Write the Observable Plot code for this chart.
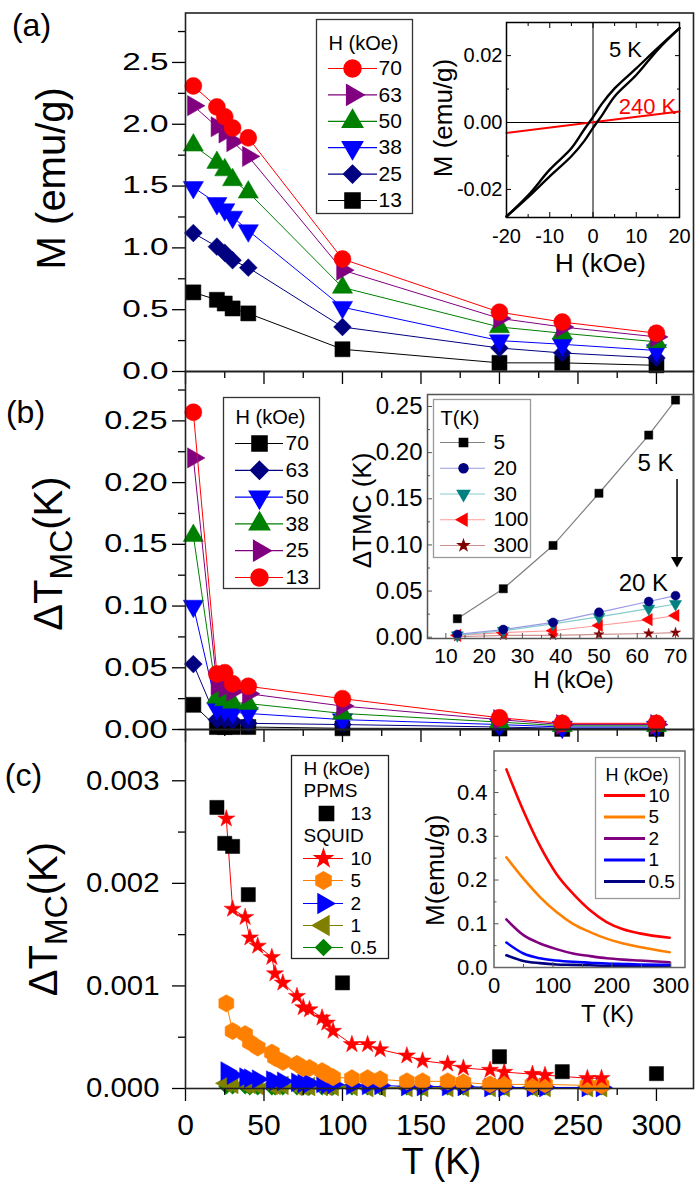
<!DOCTYPE html>
<html>
<head>
<meta charset="utf-8">
<script src="https://cdn.jsdelivr.net/npm/d3@7"></script>
<script src="https://cdn.jsdelivr.net/npm/@observablehq/plot@0.6"></script>
<style>
html,body{margin:0;padding:0;background:#fff;}
#chart{position:relative;width:700px;height:1185px;overflow:hidden;background:#fff;}
</style>
</head>
<body>
<div id="chart"></div>
<script>
// ===================== DATA =====================
// Panel (a): M (emu/g) vs T (K) at several fields (kOe)
const T_main = [5, 20, 25, 30, 40, 100, 200, 240, 300];
const M_70 = [2.31, 2.14, 2.06, 1.97, 1.89, 0.91, 0.48, 0.40, 0.31];
const M_63 = [2.15, 1.98, 1.93, 1.86, 1.74, 0.82, 0.43, 0.36, 0.28];
const M_50 = [1.83, 1.69, 1.63, 1.55, 1.45, 0.68, 0.36, 0.31, 0.24];
const M_38 = [1.49, 1.36, 1.31, 1.25, 1.14, 0.52, 0.25, 0.22, 0.17];
const M_25 = [1.12, 1.01, 0.96, 0.90, 0.84, 0.36, 0.19, 0.15, 0.11];
const M_13 = [0.64, 0.58, 0.55, 0.51, 0.47, 0.18, 0.07, 0.07, 0.05];

// Panel (b): ΔT_MC (K) vs T (K)
const D_70 = [0.020, 0.002, 0.002, 0.002, 0.002, 0.001, 0.0008, 0.0005, 0.0005];
const D_63 = [0.053, 0.008, 0.008, 0.007, 0.005, 0.004, 0.002, 0.001, 0.001];
const D_50 = [0.100, 0.017, 0.016, 0.014, 0.013, 0.008, 0.004, 0.002, 0.002];
const D_38 = [0.157, 0.026, 0.024, 0.022, 0.021, 0.013, 0.006, 0.003, 0.003];
const D_25 = [0.220, 0.036, 0.034, 0.031, 0.029, 0.019, 0.008, 0.004, 0.004];
const D_13 = [0.257, 0.045, 0.046, 0.037, 0.035, 0.025, 0.0095, 0.005, 0.005];

// Panel (c): ΔT_MC (K) vs T (K), PPMS and SQUID
const T_ppms = [20, 25, 30, 40, 100, 200, 240, 300];
const C_ppms13 = [0.00274, 0.00239, 0.00236, 0.00189, 0.00103, 0.00031, 0.000164, 0.000145];
const T_squid = [26, 30, 38, 41, 46, 55, 57, 62, 71, 75, 79, 87, 90, 94, 106, 116, 124, 141, 151, 167, 177, 194, 203, 221, 229, 256, 265];
const C_sq10 = [0.00263, 0.00175, 0.00167, 0.00147, 0.00139, 0.00128, 0.00112, 0.00103, 0.00090, 0.00079, 0.00077, 0.00069, 0.00064, 0.00056, 0.00043, 0.00043, 0.00038, 0.00032, 0.00027, 0.00024, 0.00020, 0.00018, 0.00016, 0.00014, 0.00013, 0.00010, 0.00010];
const C_sq5 = [0.00083, 0.00056, 0.00053, 0.00045, 0.00040, 0.00035, 0.00030, 0.00026, 0.00024, 0.00020, 0.00020, 0.00017, 0.00014, 0.00011, 0.00010, 0.00010, 0.00009, 0.00007, 0.00007, 0.00007, 0.00006, 0.00004, 0.00004, 0.00004, 0.00004, 0.00003, 0.00003];
const C_sq2 = [0.00017, 0.00013, 0.00011, 0.00010, 0.00009, 0.00008, 0.00007, 0.00007, 0.00006, 0.00005, 0.00005, 0.00005, 0.00004, 0.00004, 0.00003, 0.00003, 0.00003, 0.00002, 0.00002, 0.00002, 0.00002, 0.00001, 0.00001, 0.00001, 0.00001, 0.00001, 0.00001];
const C_sq1 = [0.00005, 0.00004, 0.00004, 0.00004, 0.00003, 0.00003, 0.00003, 0.00003, 0.00002, 0.00002, 0.00002, 0.00002, 0.00002, 0.00002, 0.00002, 0.00001, 0.00001, 0.00001, 0.00001, 0.00001, 0.00001, 0.00001, 0.00001, 0.00001, 0.00001, 0.00001, 0.00001];
const C_sq05 = [0.00002, 0.00002, 0.00002, 0.00001, 0.00001, 0.00001, 0.00001, 0.00001, 0.00001, 0.00001, 0.00001, 0.00001, 0.00001, 0.00001, 0.00001, 0.00001, 0.00001, 0.00001, 0.00001, 0.00001, 0.00001, 0.00001, 0.00001, 0.00001, 0.00001, 0.00001, 0.00001];

// Inset (a): M (emu/g) vs H (kOe) loops
const H_desc = [20, 15, 10, 5, 2, 0, -2, -5, -10, -15, -20];
const M5K_desc = [0.0282, 0.0223, 0.0162, 0.0102, 0.0055, 0.0016, -0.0020, -0.0077, -0.0141, -0.0218, -0.0281];
const H_asc = [-20, -15, -10, -5, -2, 0, 2, 5, 10, 15, 20];
const M5K_asc = [-0.0281, -0.0223, -0.0161, -0.0101, -0.0055, -0.0016, 0.0020, 0.0078, 0.0142, 0.0218, 0.0282];
const H_240 = [-20, 20];
const M240K = [-0.0031, 0.0033];

// Inset (b): ΔT_MC (K) vs H (kOe)
const H_inset = [13, 25, 38, 50, 63, 70];
const dT_5K = [0.020, 0.0525, 0.0994, 0.156, 0.219, 0.257];
const dT_20K = [0.003, 0.0083, 0.016, 0.027, 0.0387, 0.045];
const dT_30K = [0.002, 0.007, 0.0145, 0.022, 0.031, 0.036];
const dT_100K = [0.002, 0.005, 0.007, 0.0127, 0.019, 0.0235];
const dT_300K = [0.0005, 0.002, 0.002, 0.003, 0.004, 0.005];

// Inset (c): M (emu/g) vs T (K)
const T_mt = [21, 50, 78, 106, 134, 163, 191, 219, 247, 298];
const MT_10 = [0.453, 0.358, 0.278, 0.214, 0.169, 0.131, 0.104, 0.0875, 0.078, 0.068];
const MT_5 = [0.252, 0.203, 0.161, 0.127, 0.100, 0.081, 0.066, 0.055, 0.047, 0.035];
const MT_2 = [0.110, 0.074, 0.055, 0.042, 0.032, 0.026, 0.021, 0.018, 0.016, 0.012];
const MT_1 = [0.057, 0.032, 0.021, 0.016, 0.013, 0.011, 0.009, 0.008, 0.007, 0.006];
const MT_05 = [0.028, 0.015, 0.010, 0.007, 0.006, 0.005, 0.004, 0.004, 0.003, 0.003];

// Tick values
const T_major = [0, 50, 100, 150, 200, 250, 300];
const T_minor = [25, 75, 125, 175, 225, 275];
const yA_major = [0, 0.5, 1.0, 1.5, 2.0, 2.5];
const yA_minor = [0.25, 0.75, 1.25, 1.75, 2.25, 2.75];
const yB_major = [0, 0.05, 0.10, 0.15, 0.20, 0.25];
const yB_minor = [0.025, 0.075, 0.125, 0.175, 0.225, 0.275];
const yC_major = [0, 0.001, 0.002, 0.003];
const yC_minor = [0.0005, 0.0015, 0.0025, 0.0035];

// ===================== HELPERS =====================
const FONT = '"Liberation Sans", Arial, Helvetica, sans-serif';
const W = 700, H = 1185;
const root = document.getElementById("chart");
function box(l, t, r, b) {
  return {width: W, height: H, marginLeft: l, marginTop: t, marginRight: W - r, marginBottom: H - b};
}
function draw(opts) {
  const svg = Plot.plot({
    ...opts,
    style: {background: "transparent", overflow: "visible", fontFamily: FONT, fontSize: "20px", color: "#000",
      position: "absolute", left: "0px", top: "0px", maxWidth: "none"}
  });
  root.append(svg);
  return svg;
}
function triangle(deg) {
  const a = deg * Math.PI / 180, c = Math.cos(a), s = Math.sin(a);
  return {draw(ctx, size) {
    const y = -Math.sqrt(size / (Math.sqrt(3) * 3));
    const pts = [[0, 2 * y], [-Math.sqrt(3) * y, -y], [Math.sqrt(3) * y, -y]];
    pts.forEach(([px, py], i) => {
      const X = px * c - py * s, Y = px * s + py * c;
      if (i) ctx.lineTo(X, Y); else ctx.moveTo(X, Y);
    });
    ctx.closePath();
  }};
}
const TRI_UP = triangle(0), TRI_RIGHT = triangle(90), TRI_DOWN = triangle(180), TRI_LEFT = triangle(270);
const rows = (xs, ys) => xs.map((x, i) => ({x, y: ys[i]}));
function seriesMarks(list, lw) {
  return list.flatMap(s => {
    const d = rows(s.x, s.v);
    const m = [];
    if (s.line !== false) m.push(Plot.line(d, {x: "x", y: "y", stroke: s.lc || s.c, strokeWidth: lw, curve: s.curve || "linear"}));
    if (s.s) m.push(Plot.dot(d, {x: "x", y: "y", symbol: s.s, r: s.r, fill: s.c, stroke: s.c, strokeWidth: 0.5}));
    return m;
  });
}
// centred free label placed relative to the frame
function label(text, frameAnchor, dx, dy, fontSize, extra = {}) {
  return Plot.text([text], {text: d => d, frameAnchor, dx, dy, fontSize, textAnchor: "middle", lineAnchor: "middle", ...extra});
}
function stretchLabels(svg, sx) {
  svg.querySelectorAll('g[aria-label="y-axis tick label"] text').forEach(el => {
    const tr = el.getAttribute("transform");
    if (tr) el.setAttribute("transform", tr + ` scale(${sx},1)`);
  });
}
function subscriptTitles(svg) {
  const ns = "http://www.w3.org/2000/svg";
  svg.querySelectorAll("text").forEach(el => {
    if (el.textContent === "ΔTMC(K)") {
      el.textContent = "";
      const a = document.createElementNS(ns, "tspan"); a.textContent = "ΔT";
      const b = document.createElementNS(ns, "tspan"); b.textContent = "MC";
      b.setAttribute("font-size", "0.8em"); b.setAttribute("dy", "0.3em");
      const c = document.createElementNS(ns, "tspan"); c.textContent = "(K)"; c.setAttribute("dy", "-0.24em");
      el.append(a, b, c);
    }
  });
}
function mainPanel({t, b, ydom, yMajor, yMinor, fmt, yFont, yPad, sx, bottomLabels, marks}) {
  const svg = draw({
    ...box(185, t, 693, b),
    x: {domain: [0, 323.6]}, y: {domain: ydom},
    marks: [
      ...marks,
      Plot.axisY({ticks: yMinor, tickSize: 7, tickFormat: () => "", label: null, strokeWidth: 1.3}),
      Plot.axisY({ticks: yMajor, tickSize: 13, tickPadding: yPad, tickFormat: fmt, fontSize: yFont, label: null, strokeWidth: 1.3}),
      Plot.axisX({ticks: T_minor, tickSize: 7, tickFormat: () => "", label: null, strokeWidth: 1.3}),
      Plot.axisX({ticks: T_major, tickSize: 13, tickPadding: 12, fontSize: 30, strokeWidth: 1.3,
        tickFormat: bottomLabels ? (d => String(d)) : () => "", label: null}),
      Plot.frame({stroke: "#222", strokeWidth: 1.6})
    ]
  });
  stretchLabels(svg, sx);
  subscriptTitles(svg);
  return svg;
}
function legend({l, t, r, b, stroke = "#333", titles, entries, font = 20, titleFont = 20}) {
  const marks = [Plot.frame({fill: "white", stroke, strokeWidth: 1.3})];
  marks.push(Plot.text(titles, {x: "x", y: "y", text: "text", textAnchor: "start", lineAnchor: "middle", fontSize: titleFont}));
  for (const e of entries) {
    if (e.x1 != null) marks.push(Plot.ruleY([e], {y: "y", x1: "x1", x2: "x2", stroke: e.lc || e.c, strokeWidth: e.lw || 1.2}));
    if (e.s) marks.push(Plot.dot([e], {x: "mx", y: "y", symbol: e.s, r: e.r, fill: e.c, stroke: e.c}));
  }
  marks.push(Plot.text(entries, {x: "tx", y: "y", text: "label", textAnchor: "start", lineAnchor: "middle", fontSize: font}));
  return draw({...box(l, t, r, b),
    x: {domain: [0, r - l], axis: null},
    y: {domain: [0, b - t], reverse: true, axis: null}, marks});
}

// ===================== SERIES STYLES =====================
const seriesA = [
  {k: "13", x: T_main, v: M_13, c: "#000000", s: "square", r: 8.5},
  {k: "25", x: T_main, v: M_25, c: "#000080", s: "diamond2", r: 8},
  {k: "38", x: T_main, v: M_38, c: "#0000ff", s: TRI_DOWN, r: 7.5},
  {k: "50", x: T_main, v: M_50, c: "#008000", s: TRI_UP, r: 7.5},
  {k: "63", x: T_main, v: M_63, c: "#800080", s: TRI_RIGHT, r: 7.5},
  {k: "70", x: T_main, v: M_70, c: "#ff0000", s: "circle", r: 8.5}
];
const seriesB = [
  {k: "70", x: T_main, v: D_70, c: "#000000", s: "square", r: 8.5},
  {k: "63", x: T_main, v: D_63, c: "#000080", s: "diamond2", r: 8},
  {k: "50", x: T_main, v: D_50, c: "#0000ff", s: TRI_DOWN, r: 7.5},
  {k: "38", x: T_main, v: D_38, c: "#008000", s: TRI_UP, r: 7.5},
  {k: "25", x: T_main, v: D_25, c: "#800080", s: TRI_RIGHT, r: 7.5},
  {k: "13", x: T_main, v: D_13, c: "#ff0000", s: "circle", r: 8.5}
];
const seriesC = [
  {k: "0.5", x: T_squid, v: C_sq05, c: "#008000", s: "diamond2", r: 7},
  {k: "1", x: T_squid, v: C_sq1, c: "#808000", s: TRI_LEFT, r: 7},
  {k: "2", x: T_squid, v: C_sq2, c: "#0000ff", s: TRI_RIGHT, r: 7},
  {k: "5", x: T_squid, v: C_sq5, c: "#ff8000", s: "hexagon", r: 7.5},
  {k: "10", x: T_squid, v: C_sq10, c: "#ff0000", s: "star", r: 5.4},
  {k: "13", x: T_ppms, v: C_ppms13, c: "#000000", s: "square", r: 8, line: false}
];
const seriesIB = [
  {k: "300", x: H_inset, v: dT_300K, c: "#800000", lc: "#d09090", s: "star", r: 3.2},
  {k: "100", x: H_inset, v: dT_100K, c: "#ff0000", lc: "#ff9a9a", s: TRI_LEFT, r: 4.5},
  {k: "30", x: H_inset, v: dT_30K, c: "#008080", lc: "#86cccc", s: TRI_DOWN, r: 4.5},
  {k: "20", x: H_inset, v: dT_20K, c: "#000080", lc: "#9a9ae6", s: "circle", r: 4.5},
  {k: "5", x: H_inset, v: dT_5K, c: "#000000", lc: "#808080", s: "square", r: 4.6}
];
const seriesIC = [
  {k: "0.5", x: T_mt, v: MT_05, c: "#000080", curve: "monotone-x"},
  {k: "1", x: T_mt, v: MT_1, c: "#0000ff", curve: "monotone-x"},
  {k: "2", x: T_mt, v: MT_2, c: "#800080", curve: "monotone-x"},
  {k: "5", x: T_mt, v: MT_5, c: "#ff8000", curve: "monotone-x"},
  {k: "10", x: T_mt, v: MT_10, c: "#ff0000", curve: "monotone-x"}
];

// ===================== MAIN PANELS =====================
mainPanel({
  t: 12.5, b: 371, ydom: [0, 2.9], yMajor: yA_major, yMinor: yA_minor, fmt: d => d.toFixed(1),
  yFont: 23, yPad: 4, sx: 1.45, bottomLabels: false,
  marks: [
    ...seriesMarks(seriesA, 1),
    label("M (emu/g)", "left", -133, -14, 40, {rotate: -90}),
    label("(a)", "top-left", -154, 12.5, 32)
  ]
});
mainPanel({
  t: 371, b: 729, ydom: [0, 0.29], yMajor: yB_major, yMinor: yB_minor, fmt: d => d.toFixed(2),
  yFont: 25, yPad: 5, sx: 1.3, bottomLabels: false,
  marks: [
    ...seriesMarks(seriesB, 1),
    label("ΔTMC(K)", "left", -136, 3, 40, {rotate: -90}),
    label("(b)", "top-left", -160, 41, 32)
  ]
});
mainPanel({
  t: 729, b: 1088, ydom: [0, 0.0035], yMajor: yC_major, yMinor: yC_minor, fmt: d => d.toFixed(3),
  yFont: 28, yPad: 13, sx: 1.05, bottomLabels: true,
  marks: [
    ...seriesMarks(seriesC, 1),
    label("ΔTMC(K)", "left", -141, 10, 40, {rotate: -90}),
    label("(c)", "top-left", -162, 46, 32),
    label("T (K)", "bottom", 2, 74, 36)
  ]
});

// ===================== INSET (a) =====================
draw({
  ...box(506, 22, 679, 217),
  x: {domain: [-20, 20]}, y: {domain: [-0.0284, 0.0299]},
  marks: [
    Plot.ruleX([0], {stroke: "#000", strokeWidth: 1}),
    Plot.ruleY([0], {stroke: "#000", strokeWidth: 1}),
    Plot.line(rows(H_240, M240K), {x: "x", y: "y", stroke: "#ff0000", strokeWidth: 2}),
    Plot.line(rows(H_desc, M5K_desc), {x: "x", y: "y", stroke: "#000", strokeWidth: 2.4, curve: "catmull-rom"}),
    Plot.line(rows(H_asc, M5K_asc), {x: "x", y: "y", stroke: "#000", strokeWidth: 2.4, curve: "catmull-rom"}),
    Plot.text([{h: 7.5, m: 0.0217, t: "5 K"}], {x: "h", y: "m", text: "t", fontSize: 22, fill: "#000"}),
    Plot.text([{h: 12.6, m: 0.0047, t: "240 K"}], {x: "h", y: "m", text: "t", fontSize: 22, fill: "#ff0000"}),
    Plot.axisX({ticks: [-20, -10, 0, 10, 20], tickSize: 0, tickPadding: 11, fontSize: 20, tickFormat: d => String(d), label: null}),
    Plot.axisX({ticks: [-10, 0, 10], tickSize: -5, tickFormat: () => "", label: null}),
    Plot.axisX({ticks: [-15, -5, 5, 15], tickSize: -3, tickFormat: () => "", label: null}),
    Plot.axisX({anchor: "top", ticks: [-10, 0, 10], tickSize: -5, tickFormat: () => "", label: null}),
    Plot.axisX({anchor: "top", ticks: [-15, -5, 5, 15], tickSize: -3, tickFormat: () => "", label: null}),
    Plot.axisY({ticks: [-0.02, 0, 0.02], tickSize: 0, tickPadding: 4, fontSize: 20, tickFormat: d => d.toFixed(2), label: null}),
    Plot.axisY({ticks: [-0.02, 0, 0.02], tickSize: -5, tickFormat: () => "", label: null}),
    Plot.axisY({ticks: [-0.01, 0.01], tickSize: -3, tickFormat: () => "", label: null}),
    Plot.axisY({anchor: "right", ticks: [-0.02, 0, 0.02], tickSize: -5, tickFormat: () => "", label: null}),
    Plot.axisY({anchor: "right", ticks: [-0.01, 0.01], tickSize: -3, tickFormat: () => "", label: null}),
    label("M (emu/g)", "left", -63, -2, 26, {rotate: -90}),
    label("H (kOe)", "bottom", 7.5, 46, 26),
    Plot.frame({stroke: "#000", strokeWidth: 1.5})
  ]
});

// ===================== INSET (b) =====================
draw({
  ...box(427, 394, 693, 638),
  x: {domain: [5.2, 74.7]}, y: {domain: [-0.0014, 0.263]},
  marks: [
    label("ΔTMC (K)", "left", -65, -6, 26, {rotate: -90}),
    ...seriesMarks(seriesIB, 1.2),
    Plot.text([{h: 64.8, v: 0.188, t: "5 K"}], {x: "h", y: "v", text: "t", fontSize: 24}),
    Plot.text([{h: 61.6, v: 0.058, t: "20 K"}], {x: "h", y: "v", text: "t", fontSize: 24}),
    Plot.ruleX([{h: 70.4, a: 0.171, b: 0.086}], {x: "h", y1: "a", y2: "b", stroke: "#000", strokeWidth: 1.5}),
    Plot.dot([{h: 70.4, v: 0.083}], {x: "h", y: "v", symbol: TRI_DOWN, r: 4.5, fill: "#000"}),
    Plot.axisX({ticks: [10, 20, 30, 40, 50, 60, 70], tickSize: 0, tickPadding: 10, fontSize: 21, tickFormat: d => String(d), label: null}),
    Plot.axisX({ticks: [10, 20, 30, 40, 50, 60, 70], tickSize: -5, tickFormat: () => "", label: null, stroke: "#555"}),
    Plot.axisX({ticks: [15, 25, 35, 45, 55, 65], tickSize: -3, tickFormat: () => "", label: null, stroke: "#555"}),
    Plot.axisY({ticks: yB_major, tickSize: 0, tickPadding: 5, fontSize: 24, tickFormat: d => d.toFixed(2), label: null}),
    Plot.axisY({ticks: yB_major, tickSize: -5, tickFormat: () => "", label: null, stroke: "#555"}),
    Plot.axisY({ticks: yB_minor.slice(0, 5), tickSize: -3, tickFormat: () => "", label: null, stroke: "#555"}),
    label("H (kOe)", "bottom", 13, 42, 23),
    Plot.frame({stroke: "#555", strokeWidth: 1.5})
  ]
});

// ===================== INSET (c) =====================
draw({
  ...box(493.5, 750.5, 684.5, 967),
  x: {domain: [0, 324]}, y: {domain: [0, 0.495]},
  marks: [
    ...seriesMarks(seriesIC, 2.6),
    Plot.axisX({ticks: [0, 100, 200, 300], tickSize: 0, tickPadding: 10, fontSize: 22, tickFormat: d => String(d), label: null}),
    Plot.axisX({ticks: [100, 200, 300], tickSize: -5, tickFormat: () => "", label: null, stroke: "#555"}),
    Plot.axisX({ticks: [50, 150, 250], tickSize: -3, tickFormat: () => "", label: null, stroke: "#555"}),
    Plot.axisY({ticks: [0, 0.1, 0.2, 0.3, 0.4], tickSize: 0, tickPadding: 6.5, fontSize: 22, tickFormat: d => d.toFixed(1), label: null}),
    Plot.axisY({ticks: [0.1, 0.2, 0.3, 0.4], tickSize: -5, tickFormat: () => "", label: null, stroke: "#555"}),
    Plot.axisY({ticks: [0.05, 0.15, 0.25, 0.35, 0.45], tickSize: -3, tickFormat: () => "", label: null, stroke: "#555"}),
    label("M(emu/g)", "left", -58.5, 11, 26, {rotate: -90}),
    label("T (K)", "bottom", 18, 47, 24),
    Plot.frame({stroke: "#666", strokeWidth: 1.5})
  ]
});

// ===================== LEGENDS =====================
const legA = [
  {label: "70", c: "#ff0000", s: "circle", r: 8.5},
  {label: "63", c: "#800080", s: TRI_RIGHT, r: 7.5},
  {label: "50", c: "#008000", s: TRI_UP, r: 7.5},
  {label: "38", c: "#0000ff", s: TRI_DOWN, r: 7.5},
  {label: "25", c: "#000080", s: "diamond2", r: 8},
  {label: "13", c: "#000000", s: "square", r: 8.5}
].map((e, i) => ({...e, y: 49 + i * 26.4, x1: 12, x2: 61, mx: 36, tx: 62}));
legend({l: 316, t: 19, r: 412, b: 213, titles: [{text: "H (kOe)", x: 12, y: 24}], entries: legA, font: 21, titleFont: 20});

const legB = [
  {label: "70", c: "#000000", s: "square", r: 8.5},
  {label: "63", c: "#000080", s: "diamond2", r: 8},
  {label: "50", c: "#0000ff", s: TRI_DOWN, r: 7.5},
  {label: "38", c: "#008000", s: TRI_UP, r: 7.5},
  {label: "25", c: "#800080", s: TRI_RIGHT, r: 7.5},
  {label: "13", c: "#ff0000", s: "circle", r: 8.5}
].map((e, i) => ({...e, y: 46 + i * 26.8, x1: 12, x2: 60, mx: 36, tx: 62}));
legend({l: 223, t: 397, r: 319, b: 588, titles: [{text: "H (kOe)", x: 12, y: 20}], entries: legB, font: 21, titleFont: 20});

const legIB = [
  {label: "5", c: "#000000", lc: "#808080", s: "square", r: 4.6},
  {label: "20", c: "#000080", lc: "#9a9ae6", s: "circle", r: 4.5},
  {label: "30", c: "#008080", lc: "#86cccc", s: TRI_DOWN, r: 4.5},
  {label: "100", c: "#ff0000", lc: "#ff9a9a", s: TRI_LEFT, r: 4.5},
  {label: "300", c: "#800000", lc: "#d09090", s: "star", r: 3.2}
].map((e, i) => ({...e, y: 43 + i * 25.75, x1: 7, x2: 52, mx: 30, tx: 60}));
legend({l: 433, t: 399, r: 530, b: 557, stroke: "#999", titles: [{text: "T(K)", x: 7, y: 19}], entries: legIB, font: 21, titleFont: 20});

const legC = [
  {label: "13", c: "#000000", s: "square", r: 8, y: 58, mx: 35, tx: 59},
  {label: "10", c: "#ff0000", s: "star", r: 5.4, y: 103},
  {label: "5", c: "#ff8000", s: "hexagon", r: 7.5, y: 125},
  {label: "2", c: "#0000ff", s: TRI_RIGHT, r: 7, y: 148},
  {label: "1", c: "#808000", s: TRI_LEFT, r: 7, y: 170},
  {label: "0.5", c: "#008000", s: "diamond2", r: 7, y: 192}
].map((e, i) => i === 0 ? e : ({...e, x1: 12, x2: 52, mx: 32, tx: 59}));
legend({l: 291, t: 755, r: 388, b: 958, stroke: "#222",
  titles: [{text: "H (kOe)", x: 12, y: 13}, {text: "PPMS", x: 12, y: 35}, {text: "SQUID", x: 12, y: 80}],
  entries: legC, font: 19, titleFont: 19});

const legIC = [
  {label: "10", c: "#ff0000"},
  {label: "5", c: "#ff8000"},
  {label: "2", c: "#800080"},
  {label: "1", c: "#0000ff"},
  {label: "0.5", c: "#000080"}
].map((e, i) => ({...e, y: 38 + i * 21.5, x1: 9, x2: 50, lw: 3, tx: 53}));
legend({l: 595, t: 757, r: 679, b: 898, stroke: "#999", titles: [{text: "H (kOe)", x: 10, y: 18}], entries: legIC, font: 19, titleFont: 18});
</script>
</body>
</html>
